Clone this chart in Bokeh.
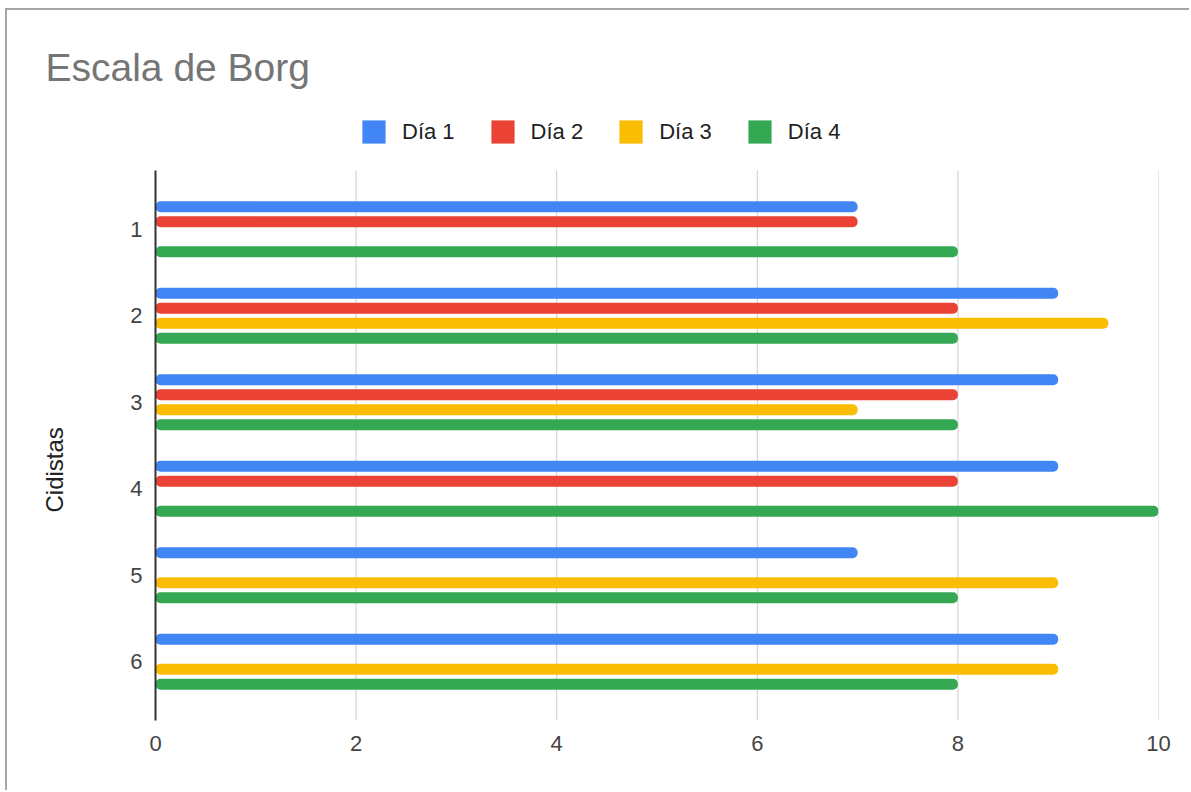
import numpy as np
from bokeh.plotting import figure
from bokeh.models import (ColumnDataSource, Range1d, FixedTicker, Legend, LegendItem, Title)
from bokeh.transform import dodge
from bokeh.embed import file_html
from bokeh.resources import INLINE

# ---- data ----
chart_title = "Escala de Borg"
y_axis_label = "Cidistas"
categories = [1, 2, 3, 4, 5, 6]
series_names = ["Día 1", "Día 2", "Día 3", "Día 4"]
dia1 = [7, 9, 9, 9, 7, 9]
dia2 = [7, 8, 8, 8, None, None]
dia3 = [None, 9.5, 7, None, 9, 9]
dia4 = [8, 8, 8, 10, 8, 8]
x_ticks = [0, 2, 4, 6, 8, 10]
colors = ["#4285F4", "#EA4335", "#FBBC04", "#34A853"]

FONT = "Liberation Sans"

def clean(vals):
    return [np.nan if v is None else float(v) for v in vals]

source = ColumnDataSource(dict(
    cat=categories,
    d1=clean(dia1), d2=clean(dia2), d3=clean(dia3), d4=clean(dia4),
))

# category axis extent (padding of 0.68 category on each side)
y_lo = categories[0] - 0.68
y_hi = categories[-1] + 0.68
axis_px = 550.0                 # pixel height of the category axis
extra_top_px = 65.0             # frame area above the axis, holding the legend
y_top = y_lo - extra_top_px * (y_hi - y_lo) / axis_px

p = figure(width=1184, height=782, output_backend="svg", toolbar_location=None,
           x_range=Range1d(0, 10), y_range=Range1d(y_hi, y_top),
           min_border_left=148, min_border_right=33, min_border_top=95,
           min_border_bottom=72, title=None)
p.margin = (8, 0, 0, 5)
p.styles = {"border-top": "2px solid #a6a6a6", "border-left": "2px solid #a6a6a6"}
p.outline_line_color = None
p.background_fill_color = "white"
p.border_fill_color = "white"

# vertical grid lines at the x ticks, limited to the category axis extent
gx = x_ticks[1:]
p.segment(x0=gx, x1=gx, y0=[y_lo] * len(gx), y1=[y_hi] * len(gx),
          line_color="#cccccc", line_width=1)

offsets = [-0.26, -0.087, 0.087, 0.26]
cols = ["d1", "d2", "d3", "d4"]
renderers = []
for col, off, c in zip(cols, offsets, colors):
    r = p.hbar(y=dodge("cat", off, range=p.y_range), left=0, right=col, height=0.127,
               source=source, fill_color=c, line_color=None, border_radius=5)
    renderers.append(r)

# axes
p.xaxis.ticker = FixedTicker(ticks=x_ticks)
p.xaxis.axis_line_color = None
p.xaxis.major_tick_line_color = None
p.xaxis.minor_tick_line_color = None
p.xaxis.major_label_standoff = 9
p.xaxis.major_label_text_font = FONT
p.xaxis.major_label_text_font_size = "22px"
p.xaxis.major_label_text_color = "#444444"

p.yaxis.ticker = FixedTicker(ticks=categories)
p.yaxis.bounds = (y_lo, y_hi)
p.yaxis.axis_line_color = "#333333"
p.yaxis.axis_line_width = 2
p.yaxis.major_tick_line_color = None
p.yaxis.minor_tick_line_color = None
p.yaxis.major_label_standoff = 7
p.yaxis.major_label_text_font = FONT
p.yaxis.major_label_text_font_size = "22px"
p.yaxis.major_label_text_color = "#444444"

p.xgrid.grid_line_color = None
p.ygrid.grid_line_color = None

# spacer between the tick labels and the y axis title
p.add_layout(Title(text=" ", standoff=56, text_font=FONT, text_font_size="2px"), "left")
# y axis title
p.add_layout(Title(text=y_axis_label, align="left", offset=208, standoff=0,
                   text_font=FONT, text_font_size="24px", text_color="#222222",
                   text_font_style="normal"), "left")

# legend (inside the frame, above the category axis)
legend = Legend(items=[LegendItem(label=n, renderers=[r]) for n, r in zip(series_names, renderers)],
                orientation="horizontal", location=(204, 574),
                glyph_width=29, glyph_height=29, label_standoff=14, spacing=33,
                padding=0, margin=0, border_line_color=None, background_fill_alpha=0,
                label_text_font=FONT, label_text_font_size="22px", label_text_color="#222222")
p.add_layout(legend, "center")

# chart title
p.add_layout(Title(text=chart_title, align="left", offset=-110, standoff=33,
                   text_font=FONT, text_font_size="39px", text_color="#757575",
                   text_font_style="normal"), "above")

open("out.html", "w").write(file_html(p, INLINE))
